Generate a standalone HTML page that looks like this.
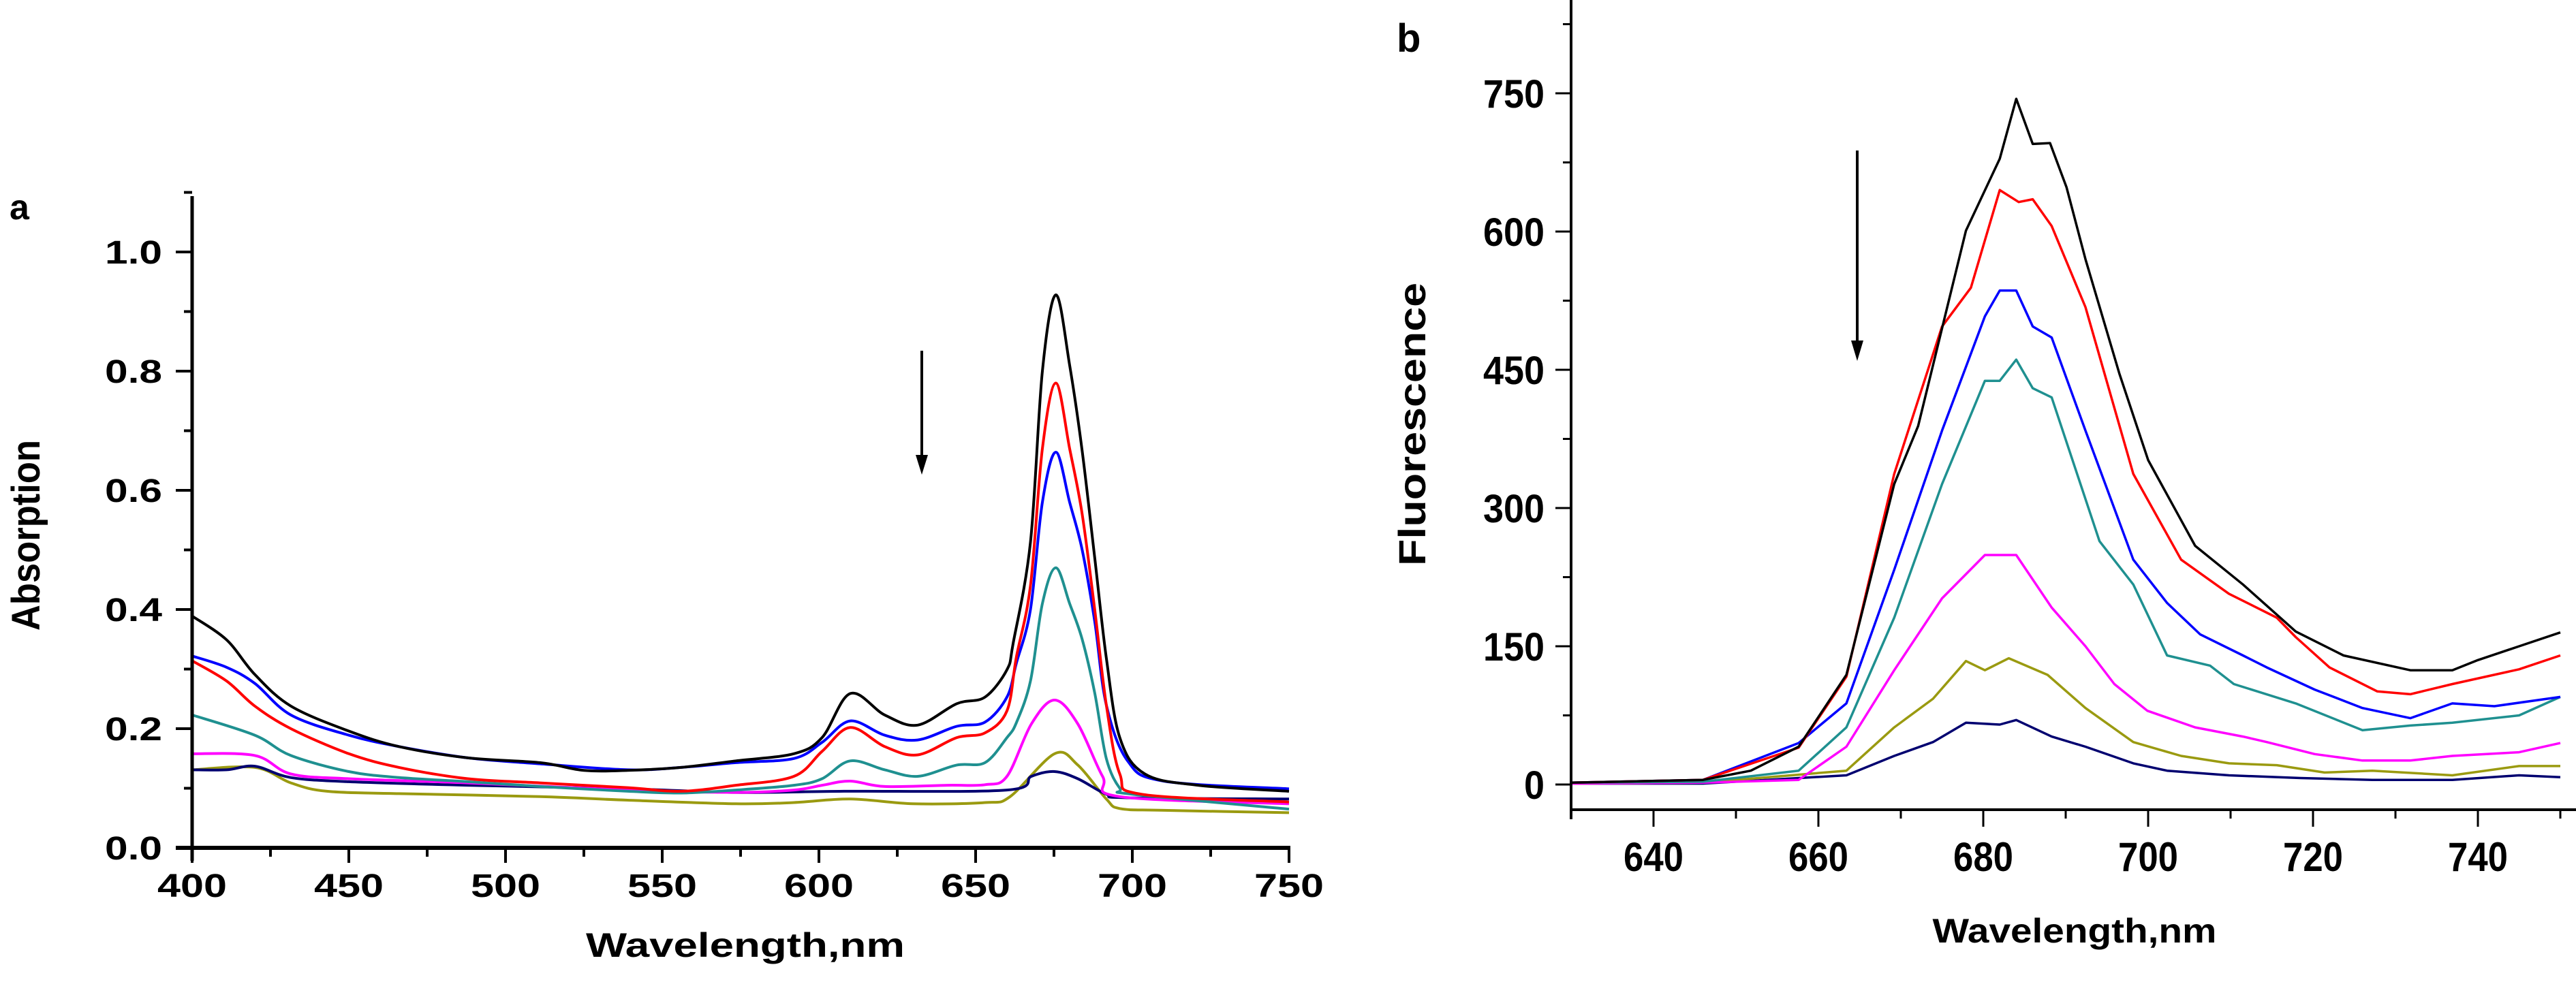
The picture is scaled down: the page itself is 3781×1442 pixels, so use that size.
<!DOCTYPE html>
<html><head><meta charset="utf-8"><style>
html,body{margin:0;padding:0;background:#fff;}
svg{display:block;}
text{font-family:"Liberation Sans",Arial,sans-serif;font-weight:bold;fill:#000;}
</style></head>
<body>
<svg id="fig" width="3781" height="1442" viewBox="0 0 3781 1442" xmlns="http://www.w3.org/2000/svg">
<rect width="3781" height="1442" fill="#fff"/>
<g id="panelA"></g>
<g id="panelB"></g>
</svg>
<script>
// ---------- Panel a data (absorption) ----------
const absTicksX = [400,450,500,550,600,650,700,750];
const absTicksY = [0.0,0.2,0.4,0.6,0.8,1.0];
const absTickLabelsY = ["0.0","0.2","0.4","0.6","0.8","1.0"];
const absColors = ["#000000","#ff0000","#0000ff","#1f9090","#ff00ff","#000070","#9a9a10"];
const absNames = ["black","red","blue","teal","magenta","navy","olive"];
const absBlackX = [400,411,420,431.5,450,466,488,511,525,539,556,573.5,592,601,610,621,631.5,644,653,660,662,667.5,671.3,675.6,680,684,688,691.7,696,704,721,750];
const absBlackY = [.389,.349,.291,.238,.196,.17,.151,.143,.13,.13,.135,.146,.158,.185,.259,.223,.206,.242,.253,.299,.344,.513,.80,.928,.81,.666,.487,.319,.185,.124,.105,.095];
const absRedX = [400,411,420,431.5,450,466,488,511,539,556,573.5,592,601,610,621,631.5,644,653,660,663,667.5,671.3,675.6,680,684,688,691.7,696,703,750];
const absRedY = [.314,.28,.238,.2,.158,.135,.116,.109,.101,.095,.105,.12,.162,.202,.17,.156,.185,.193,.23,.32,.44,.67,.78,.67,.56,.40,.24,.124,.09,.077];
const absBlueX = [400,411,420,431.5,450,466,488,511,539,556,573.5,592,601,610,621,631.5,644,653,660,663,667.5,671.3,675.6,680,684,688,691.7,698.5,710,750];
const absBlueY = [.322,.303,.276,.223,.189,.17,.151,.141,.131,.135,.143,.15,.177,.213,.189,.181,.204,.211,.253,.31,.40,.58,.664,.58,.50,.38,.24,.146,.112,.099];
const absTealX = [400,420,431.5,450,466,488,511,539,556,573.5,592,601,610,621,631.5,644,653,660,663,667.5,671.3,675.6,680,684,688,691.7,696,700,750];
const absTealY = [.223,.189,.155,.128,.118,.111,.103,.095,.092,.097,.105,.116,.146,.131,.12,.139,.143,.185,.21,.28,.41,.47,.41,.35,.26,.15,.1,.09,.065];
const absMagX = [400,420,431.5,450,488,539,573.5,592,601,610,621,641,653,660,667.8,675.2,682.6,690.5,696,750];
const absMagY = [.158,.155,.124,.116,.109,.097,.093,.097,.105,.112,.103,.105,.106,.12,.208,.248,.208,.12,.086,.074];
const absNavyX = [400,411,420,431.5,450,488,539,573.5,608,660,667.8,675.2,682.6,691.7,698.5,750];
const absNavyY = [.131,.131,.137,.118,.111,.105,.099,.093,.095,.097,.12,.128,.116,.09,.084,.082];
const absOliveX = [400,420,431.5,443,466,511,539,573.5,592,610,630,653,661,675.2,682.6,691.7,696,710,750];
const absOliveY = [.131,.135,.109,.095,.091,.086,.08,.074,.076,.082,.074,.076,.086,.158,.139,.082,.066,.063,.059];

// ---------- Panel b data (fluorescence) ----------
const flTicksX = [640,660,680,700,720,740];
const flTicksY = [0,150,300,450,600,750];
const flColors = ["#000000","#ff0000","#0000ff","#1f9090","#ff00ff","#9a9a10","#000070"];
const flNames = ["black","red","blue","teal","magenta","olive","navy"];
const flBlackX = [630,646,651.8,657.6,663.4,669.2,672.1,677.9,682,684,686,688.1,690.1,692.4,696.5,700,705.7,711.5,717.9,723.7,731.8,736.9,740,745,750];
const flBlackY = [2,5,15,41,119,326,389,601,679,744,695,696,648,570,446,352,259,217,166,140,124,124,135,150,165];
const flRedX = [630,646,657.6,663.4,669.2,675,678.5,682,684.3,686,688.3,692.4,698.2,704,709.8,715.6,717.9,722,727.8,731.8,736.9,745,750];
const flRedY = [2,5,40,117,337,497,539,645,632,635,606,518,337,244,207,181,160,127,101,98,109,125,140];
const flBlueX = [630,646,657.6,663.4,669.2,675,680.2,682,684,686,688.3,692.4,698.2,702.3,706.3,711.5,714.4,720.2,726,731.8,736.9,742,750];
const flBlueY = [2,5,45,88,233,384,508,536,536,497,485,384,244,197,163,140,127,103,83,72,88,85,95];
const flTealX = [630,646,657.6,663.4,669.2,675,680.2,682,684,686,688.3,694.1,698.2,702.3,707.5,710.4,717.9,726,731.8,736.9,745,750];
const flTealY = [2,3,15,62,181,326,438,438,461,430,420,264,217,140,129,109,88,59,64,67,75,95];
const flMagX = [630,646,657.6,663.4,669.2,675,680.2,684,688.3,692.4,695.9,699.9,705.7,711.5,714.4,720.2,726,731.8,736.9,745,750];
const flMagY = [1,2,5,41,124,202,249,249,192,150,109,80,62,52,46,33,26,26,31,35,45];
const flOliveX = [630,646,663.4,669.2,673.9,677.9,680.2,683.1,687.8,692.4,698.2,704,709.8,715.6,721.4,727.2,736.9,745,750];
const flOliveY = [1,2,15,62,93,134,124,137,119,83,46,31,23,21,13,15,10,20,20];
const flNavyX = [630,646,663.4,669.2,673.9,677.9,682,684,688.3,692.4,698.2,702.3,709.8,718.5,727.2,736.9,745,750];
const flNavyY = [1,1,10,31,46,67,65,70,52,41,23,15,10,7,5,5,10,8];

const NS = "http://www.w3.org/2000/svg";
function mk(parent, tag, attrs, txt){
  const e = document.createElementNS(NS, tag);
  for (const k in attrs) e.setAttribute(k, attrs[k]);
  if (txt !== undefined) e.textContent = txt;
  parent.appendChild(e);
  return e;
}
// axis functions
const xA = nm => 282 + (nm - 400) * 4.6;
const yA = v => 1245 - v * 875;
const xB = nm => 2306 + (nm - 630) * 12.1;
const yB = v => 1152 - v * 203 / 150;

function smoothPath(px, py){
  let d = "M" + px[0].toFixed(1) + "," + py[0].toFixed(1);
  for (let i = 0; i < px.length - 1; i++){
    const x0 = px[Math.max(i-1,0)], y0 = py[Math.max(i-1,0)];
    const x1 = px[i], y1 = py[i], x2 = px[i+1], y2 = py[i+1];
    const x3 = px[Math.min(i+2,px.length-1)], y3 = py[Math.min(i+2,px.length-1)];
    const c1x = x1 + (x2 - x0)/6, c1y = y1 + (y2 - y0)/6;
    const c2x = x2 - (x3 - x1)/6, c2y = y2 - (y3 - y1)/6;
    d += " C" + c1x.toFixed(1)+","+c1y.toFixed(1)+" "+c2x.toFixed(1)+","+c2y.toFixed(1)+" "+x2.toFixed(1)+","+y2.toFixed(1);
  }
  return d;
}
function linePath(px, py){
  return px.map((x,i)=>(i?"L":"M")+x.toFixed(1)+","+py[i].toFixed(1)).join(" ");
}

// ================= Panel A =================
const A = document.getElementById("panelA");
const absSeriesX = [absBlackX,absRedX,absBlueX,absTealX,absMagX,absNavyX,absOliveX];
const absSeriesY = [absBlackY,absRedY,absBlueY,absTealY,absMagY,absNavyY,absOliveY];
for (let s = absSeriesX.length - 1; s >= 0; s--){
  const p = mk(A, "path", {d: smoothPath(absSeriesX[s].map(xA), absSeriesY[s].map(yA)), fill:"none", stroke:absColors[s], "stroke-width":4, "stroke-linejoin":"round"});
  
  
}
// axes
let ax = mk(A, "line", {x1:282, y1:288, x2:282, y2:1264, stroke:"#000", "stroke-width":5});


ax = mk(A, "line", {x1:258, y1:1245, x2:1894, y2:1245, stroke:"#000", "stroke-width":6});


for (let v = 0; v <= 1.1001; v += 0.1){
  const major = Math.round(v*10) % 2 === 0;
  const t = mk(A, "line", {x1: major?258:270, y1:yA(v), x2:282, y2:yA(v), stroke:"#000", "stroke-width":4});
  
  
}
absTicksY.forEach((v,i)=>{
  const t = mk(A, "text", {x:238, y:yA(v)+17, "font-size":48, "text-anchor":"end", textLength:84, lengthAdjust:"spacingAndGlyphs"}, absTickLabelsY[i]);
  
  
});
for (let nm = 400; nm <= 750; nm += 25){
  const major = nm % 50 === 0;
  const t = mk(A, "line", {x1:xA(nm), y1:1245, x2:xA(nm), y2: major?1267:1258, stroke:"#000", "stroke-width":4});
  
  
}
absTicksX.forEach(nm=>{
  const t = mk(A, "text", {x:xA(nm), y:1317, "font-size":48, "text-anchor":"middle", textLength:102, lengthAdjust:"spacingAndGlyphs"}, String(nm));
  
  
});
let tt = mk(A, "text", {x:1094, y:1405, "font-size":50, "text-anchor":"middle", textLength:468, lengthAdjust:"spacingAndGlyphs"}, "Wavelength,nm");


tt = mk(A, "text", {x:0, y:0, "font-size":58, "text-anchor":"middle", textLength:280, lengthAdjust:"spacingAndGlyphs", transform:"translate(58,786) rotate(-90)"}, "Absorption");


tt = mk(A, "text", {x:14, y:322, "font-size":52}, "a");


let ar = mk(A, "line", {x1:1353, y1:515, x2:1353, y2:672, stroke:"#000", "stroke-width":4});


ar = mk(A, "polygon", {points:"1344,668 1362,668 1353,697", fill:"#000"});



// ================= Panel B =================
const B = document.getElementById("panelB");
const flSeriesX = [flBlackX,flRedX,flBlueX,flTealX,flMagX,flOliveX,flNavyX];
const flSeriesY = [flBlackY,flRedY,flBlueY,flTealY,flMagY,flOliveY,flNavyY];
for (let s = flSeriesX.length - 1; s >= 0; s--){
  const p = mk(B, "path", {d: linePath(flSeriesX[s].map(xB), flSeriesY[s].map(yB)), fill:"none", stroke:flColors[s], "stroke-width":3.5, "stroke-linejoin":"round"});
  
  
}
ax = mk(B, "line", {x1:2306, y1:0, x2:2306, y2:1203, stroke:"#000", "stroke-width":4});


ax = mk(B, "line", {x1:2306, y1:1189, x2:3781, y2:1189, stroke:"#000", "stroke-width":4});


for (let v = 0; v <= 825; v += 75){
  const major = v % 150 === 0;
  const t = mk(B, "line", {x1: major?2283:2294, y1:yB(v), x2:2306, y2:yB(v), stroke:"#000", "stroke-width":3});
  
  
}
flTicksY.forEach(v=>{
  const s = String(v);
  const t = mk(B, "text", {x:2267, y:yB(v)+21, "font-size":58, "text-anchor":"end", textLength: s.length*30, lengthAdjust:"spacingAndGlyphs"}, s);
  
  
});
for (let nm = 630; nm <= 750; nm += 10){
  const major = nm % 20 === 0;
  const t = mk(B, "line", {x1:xB(nm), y1:1189, x2:xB(nm), y2: major?1214:1202, stroke:"#000", "stroke-width":3});
  
  
}
flTicksX.forEach(nm=>{
  const t = mk(B, "text", {x:xB(nm), y:1279, "font-size":60, "text-anchor":"middle", textLength:88, lengthAdjust:"spacingAndGlyphs"}, String(nm));
  
  
});
tt = mk(B, "text", {x:3045, y:1384, "font-size":50, "text-anchor":"middle", textLength:417, lengthAdjust:"spacingAndGlyphs"}, "Wavelength,nm");


tt = mk(B, "text", {x:0, y:0, "font-size":56, "text-anchor":"middle", textLength:416, lengthAdjust:"spacingAndGlyphs", transform:"translate(2092,623) rotate(-90)"}, "Fluorescence");


tt = mk(B, "text", {x:2050, y:76, "font-size":58}, "b");


ar = mk(B, "line", {x1:2726, y1:221, x2:2726, y2:505, stroke:"#000", "stroke-width":4});


ar = mk(B, "polygon", {points:"2717,500 2735,500 2726,530", fill:"#000"});


</script>
</body></html>
